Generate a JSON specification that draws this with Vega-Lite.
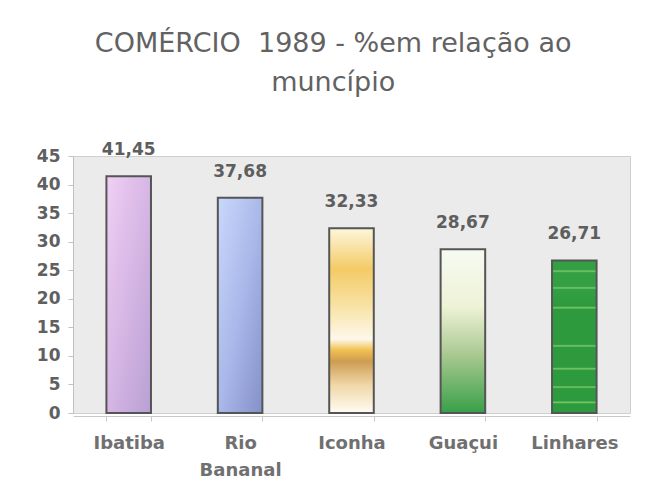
{
  "$schema": "https://vega.github.io/schema/vega-lite/v6.json",
  "width": 557,
  "height": 257,
  "autosize": "none",
  "padding": {"left": 73, "top": 156, "right": 22, "bottom": 79},
  "background": "white",
  "config": {
    "font": "DejaVu Sans",
    "locale": {"number": {"decimal": ",", "thousands": ".", "grouping": [3], "currency": ["R$", ""]}},
    "view": {"fill": "#ebebeb", "stroke": "#cfcfcf", "strokeWidth": 1}
  },
  "title": {
    "text": ["COMÉRCIO\u00a0 1989 - %em relação ao", "muncípio"],
    "fontSize": 27,
    "fontWeight": "normal",
    "color": "#626262",
    "anchor": "middle",
    "frame": "bounds",
    "lineHeight": 39,
    "offset": 44
  },
  "data": {
    "values": [
      {"municipio": "Ibatiba", "valor": 41.45},
      {"municipio": "Rio Bananal", "valor": 37.68},
      {"municipio": "Iconha", "valor": 32.33},
      {"municipio": "Guaçui", "valor": 28.67},
      {"municipio": "Linhares", "valor": 26.71}
    ]
  },
  "encoding": {
    "x": {
      "field": "municipio",
      "type": "nominal",
      "sort": null,
      "scale": {"paddingInner": 0.6, "paddingOuter": 0.3},
      "axis": {
        "title": null,
        "labelAngle": 0,
        "labelFont": "DejaVu Sans",
        "labelFontSize": 18,
        "labelFontWeight": "bold",
        "labelColor": "#707070",
        "labelPadding": 13,
        "labelLineHeight": 27,
        "labelExpr": "datum.label == 'Rio Bananal' ? ['Rio', 'Bananal'] : datum.label",
        "domainColor": "#c8c8c8",
        "tickColor": "#c8c8c8",
        "tickBand": "extent",
        "tickSize": 5,
        "offset": 3
      }
    },
    "y": {
      "field": "valor",
      "type": "quantitative",
      "scale": {"domain": [0, 45], "nice": false},
      "axis": {
        "title": null,
        "values": [0, 5, 10, 15, 20, 25, 30, 35, 40, 45],
        "grid": false,
        "labelFont": "DejaVu Sans",
        "labelFontSize": 17,
        "labelFontWeight": "bold",
        "labelColor": "#606060",
        "labelPadding": 8,
        "domainColor": "#c0c0c0",
        "tickColor": "#c0c0c0",
        "tickSize": 5
      }
    }
  },
  "layer": [
    {
      "transform": [{"filter": "datum.municipio == 'Ibatiba'"}],
      "mark": {"type": "bar", "stroke": "#555555", "strokeWidth": 2,
        "fill": {"gradient": "linear", "x1": 0, "y1": 0, "x2": 1, "y2": 1,
          "stops": [{"offset": 0, "color": "#f0d0f4"}, {"offset": 0.5, "color": "#d6b6e4"}, {"offset": 1, "color": "#b8a0d4"}]}}
    },
    {
      "transform": [{"filter": "datum.municipio == 'Rio Bananal'"}],
      "mark": {"type": "bar", "stroke": "#555555", "strokeWidth": 2,
        "fill": {"gradient": "linear", "x1": 0, "y1": 0, "x2": 1, "y2": 1,
          "stops": [{"offset": 0, "color": "#cad8fc"}, {"offset": 0.5, "color": "#aab8ea"}, {"offset": 1, "color": "#8490c8"}]}}
    },
    {
      "transform": [{"filter": "datum.municipio == 'Iconha'"}],
      "mark": {"type": "bar", "stroke": "#555555", "strokeWidth": 2,
        "fill": {"gradient": "linear", "x1": 0, "y1": 0, "x2": 0, "y2": 1,
          "stops": [
            {"offset": 0, "color": "#fdf6dc"},
            {"offset": 0.22, "color": "#f3cb66"},
            {"offset": 0.42, "color": "#f8e2a4"},
            {"offset": 0.6, "color": "#fdf8ea"},
            {"offset": 0.66, "color": "#f0c050"},
            {"offset": 0.72, "color": "#cf9c52"},
            {"offset": 0.85, "color": "#f0d8a8"},
            {"offset": 1, "color": "#fffcf4"}
          ]}}
    },
    {
      "transform": [{"filter": "datum.municipio == 'Guaçui'"}],
      "mark": {"type": "bar", "stroke": "#555555", "strokeWidth": 2,
        "fill": {"gradient": "linear", "x1": 0, "y1": 0, "x2": 0, "y2": 1,
          "stops": [
            {"offset": 0, "color": "#f6fbf2"},
            {"offset": 0.35, "color": "#eef2d6"},
            {"offset": 0.65, "color": "#a8c890"},
            {"offset": 1, "color": "#38a048"}
          ]}}
    },
    {
      "transform": [{"filter": "datum.municipio == 'Linhares'"}],
      "mark": {"type": "bar", "stroke": "#555555", "strokeWidth": 2,
        "fill": {"gradient": "linear", "x1": 0, "y1": 0, "x2": 0, "y2": 1,
          "stops": [
            {"offset": 0, "color": "#33a043"},
            {"offset": 0.06, "color": "#33a043"},
            {"offset": 0.07, "color": "#7cc86a"},
            {"offset": 0.08, "color": "#33a043"},
            {"offset": 0.17, "color": "#33a043"},
            {"offset": 0.18, "color": "#7cc86a"},
            {"offset": 0.19, "color": "#33a043"},
            {"offset": 0.3, "color": "#2e9a3e"},
            {"offset": 0.31, "color": "#7cc86a"},
            {"offset": 0.32, "color": "#2e9a3e"},
            {"offset": 0.55, "color": "#2e9a3e"},
            {"offset": 0.56, "color": "#7cc86a"},
            {"offset": 0.57, "color": "#2e9a3e"},
            {"offset": 0.7, "color": "#2e9a3e"},
            {"offset": 0.71, "color": "#7cc86a"},
            {"offset": 0.72, "color": "#2e9a3e"},
            {"offset": 0.82, "color": "#2e9a3e"},
            {"offset": 0.83, "color": "#7cc86a"},
            {"offset": 0.84, "color": "#2e9a3e"},
            {"offset": 0.92, "color": "#2e9a3e"},
            {"offset": 0.93, "color": "#7cc86a"},
            {"offset": 0.94, "color": "#2e9a3e"},
            {"offset": 1, "color": "#2e9a3e"}
          ]}}
    },
    {
      "mark": {"type": "text", "baseline": "bottom", "dy": -17, "fontSize": 17, "fontWeight": "bold", "color": "#5e5e5e", "font": "DejaVu Sans"},
      "encoding": {"text": {"field": "valor", "type": "quantitative", "format": ".2f"}}
    }
  ]
}
